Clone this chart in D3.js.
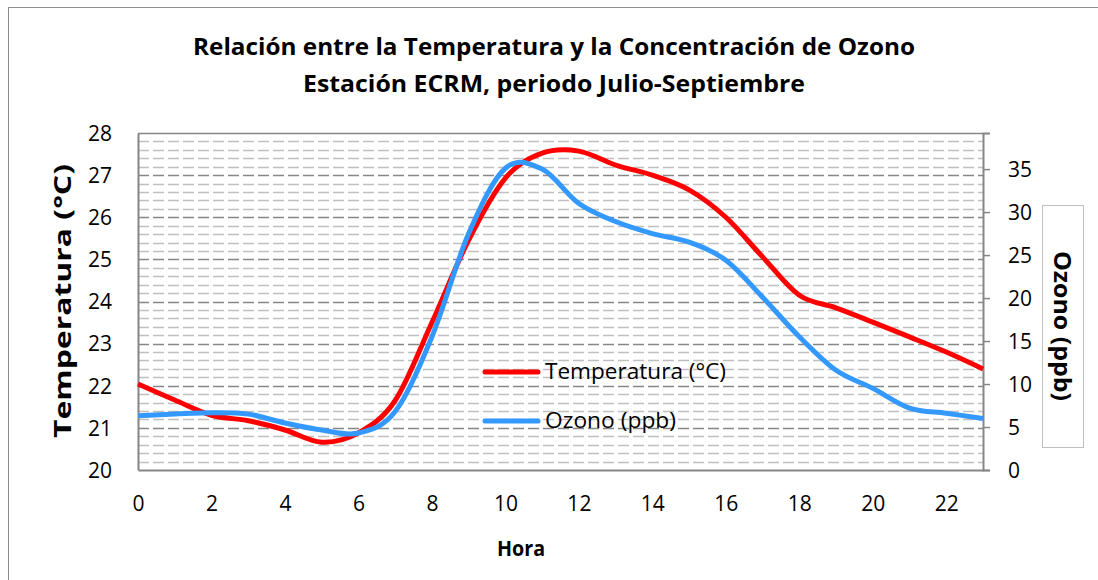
<!DOCTYPE html>
<html><head><meta charset="utf-8">
<script src="https://cdn.jsdelivr.net/npm/d3@7"></script>
<style>
html,body{margin:0;padding:0;background:#fff;}
svg text{font-family:"Open Sans","Noto Sans",sans-serif;fill:#000;}
</style></head>
<body><svg id="c" width="1098" height="580"></svg>
<script>
const hours = [0,1,2,3,4,5,6,7,8,9,10,11,12,13,14,15,16,17,18,19,20,21,22,23];
const temperatura = [22.04,21.66,21.3,21.17,20.95,20.66,20.88,21.65,23.5,25.46,26.93,27.52,27.57,27.24,27.0,26.65,26.0,25.06,24.15,23.85,23.51,23.16,22.8,22.4];
const ozono = [6.3,6.5,6.66,6.5,5.47,4.65,4.3,6.8,15.5,27.5,35.1,35.0,31.0,28.9,27.5,26.5,24.4,20.1,15.5,11.6,9.5,7.2,6.6,6.0];
const xTicks = [0,2,4,6,8,10,12,14,16,18,20,22];
const leftTicks = [20,21,22,23,24,25,26,27,28];
const rightTicks = [0,5,10,15,20,25,30,35];
const titleLines = ["Relación entre la Temperatura y la Concentración de Ozono","Estación ECRM, periodo Julio-Septiembre"];

const svg = d3.select("#c");
const L=138, R=983, T=133, B=470;
const x = d3.scaleLinear().domain([0,23]).range([L,R]);
const yL = d3.scaleLinear().domain([20,28]).range([B,T]);
const yR = d3.scaleLinear().domain([0,39.2]).range([B,T]);

// outer border
svg.append("rect").attr("x",8.5).attr("y",7.5).attr("width",1120).attr("height",600)
  .attr("fill","none").attr("stroke","#8c8c8c").attr("stroke-width",1);

// minor grid
const minor = d3.range(20,28.001,0.2).filter(v=>Math.abs(v-Math.round(v))>0.01);
svg.append("g").selectAll("line").data(minor).join("line")
  .attr("x1",L).attr("x2",R).attr("y1",d=>Math.round(yL(d))+0.5).attr("y2",d=>Math.round(yL(d))+0.5)
  .attr("stroke","#bfbfbf").attr("stroke-width",1.6).attr("stroke-dasharray","11,4");
svg.append("g").selectAll("line").data(leftTicks.slice(1,-1)).join("line")
  .attr("x1",L).attr("x2",R).attr("y1",d=>Math.round(yL(d))+0.5).attr("y2",d=>Math.round(yL(d))+0.5)
  .attr("stroke","#868686").attr("stroke-width",1.6).attr("stroke-dasharray","11,4");
// top border
svg.append("line").attr("x1",L).attr("x2",R).attr("y1",T+0.5).attr("y2",T+0.5).attr("stroke","#868686").attr("stroke-width",1.5);

// axes
const gL = svg.append("g").attr("transform",`translate(${L},0)`)
  .call(d3.axisLeft(yL).tickValues(leftTicks).tickSize(0).tickPadding(26).tickFormat(d3.format("d")));
const gR = svg.append("g").attr("transform",`translate(${R},0)`)
  .call(d3.axisRight(yR).tickValues(rightTicks).tickSize(7).tickPadding(18).tickFormat(d3.format("d")));
const gB = svg.append("g").attr("transform",`translate(0,${B})`)
  .call(d3.axisBottom(x).tickValues(xTicks).tickSize(0).tickPadding(26).tickFormat(d3.format("d")));
[gL,gR,gB].forEach(g=>{
  g.attr("font-size",21).attr("font-family","'Open Sans',sans-serif");
  g.select(".domain").attr("stroke","#868686").attr("stroke-width",2);
  g.selectAll(".tick line").attr("stroke","#868686").attr("stroke-width",1.5);
  g.selectAll(".tick text").attr("font-size",21).attr("fill","#000");
});
gL.selectAll(".tick text").attr("dy","0.35em");
gR.selectAll(".tick text").attr("dy","0.35em");

// lines
const line = (ys,arr)=>d3.line().x((d,i)=>x(hours[i])).y(d=>ys(d)).curve(d3.curveCatmullRom.alpha(0))(arr);
svg.append("path").attr("d",line(yL,temperatura)).attr("fill","none").attr("stroke","#ff0000").attr("stroke-width",5).attr("stroke-linejoin","round");
svg.append("path").attr("d",line(yR,ozono)).attr("fill","none").attr("stroke","#3399ff").attr("stroke-width",5).attr("stroke-linejoin","round");

const fit=(sel,w)=>{sel.attr("textLength",w).attr("lengthAdjust","spacingAndGlyphs");};

// legend
const leg = [{name:"Temperatura (°C)",c:"#ff0000",y:372,w:181},{name:"Ozono (ppb)",c:"#3399ff",y:421,w:131}];
leg.forEach(d=>{
  svg.append("line").attr("x1",485).attr("x2",538).attr("y1",d.y).attr("y2",d.y).attr("stroke",d.c).attr("stroke-width",5).attr("stroke-linecap","round");
  fit(svg.append("text").attr("x",545).attr("y",d.y).attr("dy","0.35em").attr("font-size",21).text(d.name),d.w);
});

// titles
fit(svg.append("text").attr("x",554).attr("y",47).attr("dy","0.35em").attr("text-anchor","middle").attr("font-size",23).attr("font-weight","bold").text(titleLines[0]),722);
fit(svg.append("text").attr("x",554).attr("y",84).attr("dy","0.35em").attr("text-anchor","middle").attr("font-size",23).attr("font-weight","bold").text(titleLines[1]),502);
fit(svg.append("text").attr("transform","translate(63,301) rotate(-90)").attr("dy","0.35em").attr("text-anchor","middle").attr("font-size",23).attr("font-weight","bold").text("Temperatura (°C)"),274);
fit(svg.append("text").attr("x",521).attr("y",548).attr("dy","0.35em").attr("text-anchor","middle").attr("font-size",22).attr("font-weight","bold").text("Hora"),48);

// right axis title box
svg.append("rect").attr("x",1042.5).attr("y",205.5).attr("width",41).attr("height",242).attr("fill","#fff").attr("stroke","#bfbfbf").attr("stroke-width",1);
fit(svg.append("text").attr("transform","translate(1062,326) rotate(90)").attr("dy","0.35em").attr("text-anchor","middle").attr("font-size",23).attr("font-weight","bold").text("Ozono (ppb)"),150);
</script></body></html>
